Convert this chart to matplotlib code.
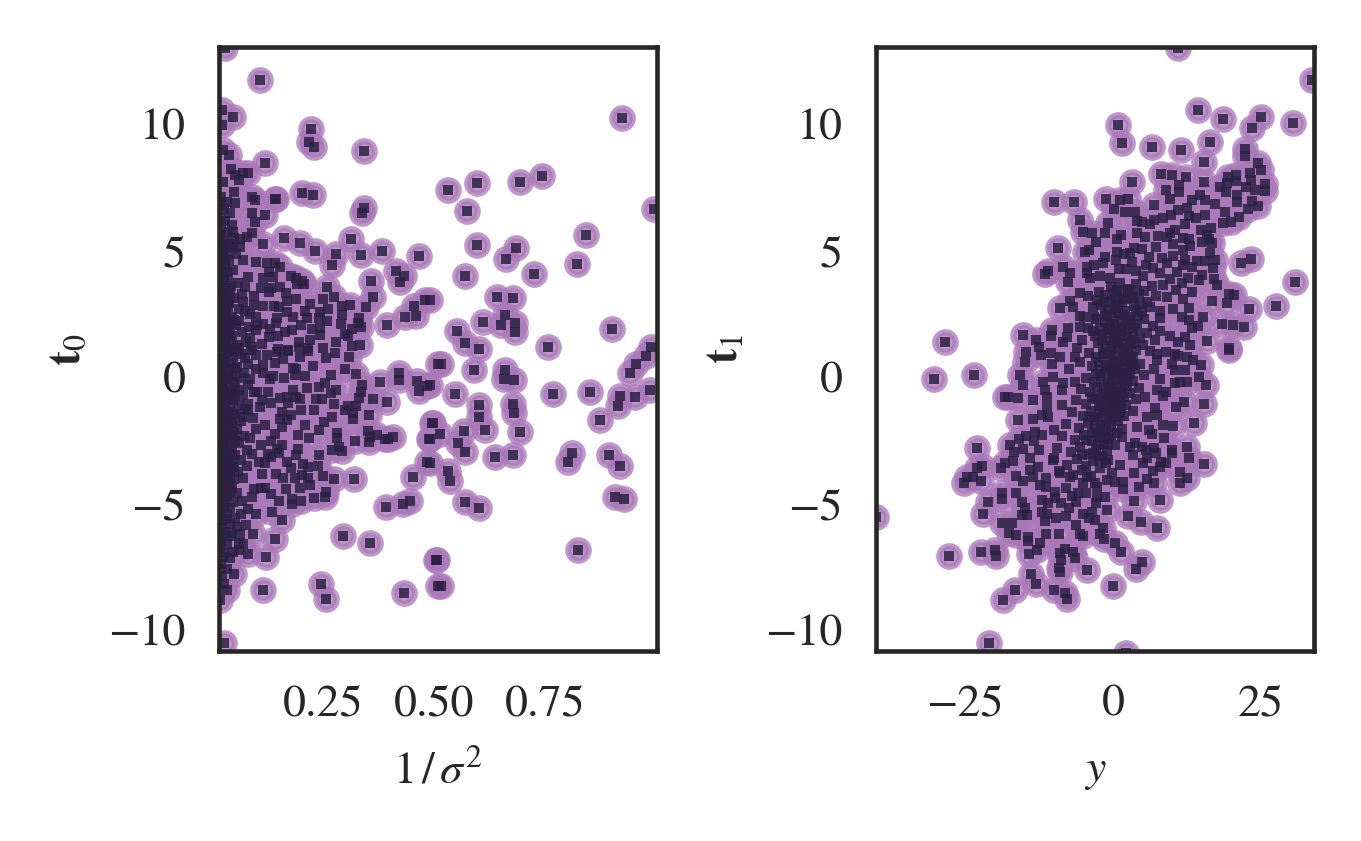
import numpy as np
import matplotlib
matplotlib.use('Agg')
import matplotlib.pyplot as plt

plt.rcParams['font.family'] = ['STIXGeneral', 'Liberation Serif']
plt.rcParams['mathtext.fontset'] = 'stix'
plt.rcParams['font.size'] = 11
plt.rcParams['text.color'] = '#262626'
plt.rcParams['axes.labelcolor'] = '#262626'
plt.rcParams['xtick.labelcolor'] = '#262626'
plt.rcParams['ytick.labelcolor'] = '#262626'

# puntos leidos uno a uno: (1/sigma^2, t0)
left_points = [
    (.108,11.74),(.03,13.0),(.047,10.27),(.022,10.55),(.022,9.96),(.223,9.81),(.218,9.30),(.230,9.10),
    (.342,8.93),(.119,8.47),(.038,8.77),(.024,8.97),(.043,8.22),(.052,7.98),(.061,7.79),(.07,8.06),
    (.081,8.07),(.025,7.72),(.05,7.32),(.09,7.13),(.097,7.0),(.142,7.04),(.145,7.04),(.203,7.28),
    (.228,7.19),(.052,6.88),(.09,6.49),(.119,6.4),(.097,6.14),(.342,6.68),(.338,6.49),(.047,5.74),
    (.09,5.70),(.063,5.45),(.078,5.55),(.115,5.26),(.162,5.51),(.198,5.31),(.232,4.99),(.279,4.87),
    (.313,5.45),(.335,4.82),(.383,4.99),(.466,4.79),(.27,4.43),(.414,4.2),(.432,4.0),(.424,3.77),
    (.358,3.81),(.063,5.15),(.047,5.14),(.07,4.62),(.1,4.56),(.123,4.52),(.142,4.52),(.153,4.36),
    (.081,3.95),(.115,3.91),(.137,3.95),(.128,4.16),(.177,3.99),(.19,3.91),(.202,3.81),(.191,3.68),
    (.207,3.68),(.11,3.53),(.134,3.52),(.153,3.57),(.128,3.37),(.167,3.33),(.074,3.57),(.259,3.57),
    (.275,3.16),(.362,3.16),(.095,2.85),(.114,2.82),(.14,2.82),(.151,2.77),(.221,2.89),(.21,2.62),
    (.261,2.7),(.293,2.82),(.311,2.85),(.347,2.78),(.455,2.82),(.48,3.04),(.435,2.38),(.46,2.42),
    (.394,2.07),(.293,2.46),(.243,2.58),(.241,2.34),(.213,2.34),(.182,2.38),(.146,2.34),(.144,2.15),
    (.1,2.38),(.101,2.05),(.115,2.09),(.331,2.34),(.329,2.13),(.335,1.99),(.315,1.9),(.306,1.62),
    (.225,1.9),(.243,1.94),(.243,1.66),(.18,1.86),(.164,1.79),(.149,1.62),(.128,1.58),(.1,1.86),
    (.085,1.54),(.112,1.3),(.196,1.4),(.196,1.2),(.315,1.23),(.333,1.26),(.149,1.1),(.171,1.07),
    (.216,1.15),(.147,1.0),(.171,1.03),(.198,.8),(.216,1.03),(.257,.75),(.277,.95),(.309,.8),
    (.123,.87),(.1,.87),(.115,.47),(.142,.55),(.115,.16),(.137,.04),(.162,-.04),(.183,.36),
    (.187,.08),(.228,.43),(.269,.08),(.255,-.24),(.268,-.62),(.324,.12),(.378,-.19),(.421,.16),
    (.421,-.12),(.461,-.15),(.484,-.34),(.466,-.54),(.509,.51),(.337,-.32),(.335,-.58),(.331,-.83),
    (.362,-.87),(.394,-.99),(.275,-1.07),(.234,-.87),(.247,-.87),(.213,-.42),(.19,-.78),(.198,-.87),
    (.182,-.51),(.168,-.79),(.153,-.83),(.171,-1.03),(.126,-.58),(.101,-.59),(.112,-.91),(.108,-1.17),
    (.134,-1.03),(.081,-1.3),(.092,-1.62),(.157,-1.37),(.179,-1.5),(.153,-1.66),(.169,-1.7),(.157,-1.98),
    (.253,-1.77),(.306,-1.13),(.324,-1.13),(.317,-1.42),(.317,-1.66),(.354,-1.5),(.351,-2.12),(.371,-2.29),
    (.356,-2.36),(.354,-2.57),(.322,-2.52),(.281,-2.21),(.282,-2.41),(.286,-2.77),(.293,-2.93),(.39,-2.45),
    (.397,-2.45),(.407,-2.36),(.495,-1.82),(.488,-2.45),(.484,-3.36),(.452,-3.94),(.193,-2.29),(.219,-2.4),
    (.142,-2.25),(.133,-2.52),(.157,-2.69),(.147,-2.85),(.193,-2.85),(.19,-3.08),(.126,-3.04),(.134,-3.16),
    (.168,-3.35),(.179,-3.6),(.204,-3.44),(.216,-3.54),(.238,-3.51),(.202,-3.87),(.216,-3.99),(.187,-3.99),
    (.221,-4.27),(.198,-4.38),(.167,-4.43),(.144,-3.83),(.112,-3.83),(.095,-4.43),(.133,-4.61),(.18,-4.82),
    (.18,-5.02),(.257,-4.53),(.255,-4.74),(.275,-4.03),(.32,-4.03),(.067,-4.9),(.135,-5.32),(.158,-5.65),
    (.392,-5.13),(.43,-5.02),(.446,-4.9),(.077,-5.85),(.092,-6.21),(.142,-6.4),(.056,-5.93),(.063,-6.21),
    (.061,-6.56),(.061,-6.84),(.08,-7.0),(.122,-7.11),(.047,-6.9),(.04,-6.17),(.05,-7.79),(.033,-8.42),
    (.115,-8.42),(.245,-8.18),(.257,-8.77),(.432,-8.54),(.294,-6.27),(.356,-6.55),(.504,-7.23),(.509,-8.26),
    (.027,-10.51),(.018,-8.81),
    (.924,10.22),(.532,7.39),(.597,7.68),(.574,6.56),(.694,7.72),(.743,7.94),(.996,6.64),(.842,5.61),
    (.822,4.47),(.597,5.22),(.685,5.1),(.662,4.66),(.57,3.99),(.725,4.07),(.642,3.16),(.678,3.12),
    (.491,3.04),(.61,2.17),(.66,2.45),(.651,2.06),(.682,2.13),(.682,1.78),(.552,1.82),(.57,1.36),
    (.601,1.11),(.757,1.19),(.901,1.9),(.989,1.19),(.977,.83),(.955,.51),(.941,.17),(.986,-.51),
    (.953,-.78),(.92,-.75),(.914,-1.15),(.874,-1.7),(.851,-.59),(.768,-.67),(.516,.51),(.59,.28),
    (.66,.28),(.658,-.08),(.68,-.12),(.547,-.67),(.601,-1.11),(.601,-1.58),(.678,-1.07),(.68,-1.42),
    (.694,-2.17),(.615,-2.09),(.568,-2.13),(.554,-2.61),(.57,-2.96),(.513,-2.25),(.497,-1.82),(.491,-2.45),
    (.637,-3.15),(.678,-3.08),(.532,-3.72),(.536,-4.11),(.57,-4.94),(.601,-5.18),(.811,-3.0),(.802,-3.36),
    (.894,-3.08),(.919,-3.52),(.908,-4.74),(.928,-4.82),(.824,-6.84),(.507,-7.23),(.516,-8.26),(.491,-.32),
    (.491,-3.4),
    (.13,1.9),(.17,2.55),(.2,2.05),(.22,1.45),(.26,2.2),(.28,1.4),(.25,1.15),(.16,.7),(.19,.3),(.21,.05),
    (.24,-.4),(.28,-.5),(.3,.3),(.3,-1.3),(.27,-1.6),(.23,-1.3),(.21,-1.9),(.2,-1.3),(.24,-2.1),(.27,-2.9),
    (.24,-3.1),(.25,-3.9),(.15,-3.0),(.16,-4.0),(.15,-4.9),(.2,-4.9),(.23,-4.8),(.12,-1.9),(.13,-.1),(.12,-3.4),
    (.17,3.0),(.19,3.1),(.25,3.1),(.12,-4.4),(.3,1.7),(.29,2.1),
]

# la banda oscura junto al eje: (1/sigma^2, t0) estimados
left_band = [
    (.02,7.1),(.033,6.93),(.018,6.81),(.027,6.62),(.04,6.47),(.019,6.3),(.03,6.17),(.046,6.02),(.021,5.88),
    (.036,5.74),(.018,5.63),(.05,5.51),(.026,5.38),(.041,5.24),(.018,5.13),(.031,4.99),(.055,4.86),(.022,4.73),
    (.039,4.61),(.019,4.48),(.029,4.35),(.047,4.22),(.018,4.1),(.035,3.97),(.024,3.85),(.058,3.73),(.043,3.61),
    (.019,3.49),(.03,3.38),(.067,3.26),(.05,3.14),(.022,3.03),(.038,2.91),(.018,2.82),(.06,2.7),(.075,2.59),
    (.028,2.48),(.045,2.37),(.018,2.29),(.034,2.17),(.054,2.06),(.083,1.96),(.024,1.86),(.068,1.76),(.041,1.66),
    (.018,1.57),(.031,1.47),(.076,1.37),(.056,1.27),(.021,1.18),(.088,1.08),(.038,.98),(.065,.89),(.047,.79),
    (.018,.7),(.027,.6),(.08,.51),(.056,.41),(.035,.32),(.02,.23),(.072,.14),(.044,.04),(.062,-.05),(.018,-.14),
    (.03,-.24),(.082,-.33),(.052,-.43),(.023,-.52),(.039,-.62),(.069,-.71),(.018,-.81),(.047,-.9),(.03,-1.0),
    (.06,-1.09),(.02,-1.19),(.075,-1.28),(.038,-1.38),(.052,-1.47),(.018,-1.57),(.028,-1.66),(.066,-1.76),
    (.044,-1.85),(.021,-1.95),(.056,-2.05),(.033,-2.14),(.018,-2.24),(.072,-2.33),(.047,-2.43),(.026,-2.52),
    (.06,-2.62),(.04,-2.71),(.018,-2.81),(.078,-2.9),(.03,-3.0),(.052,-3.09),(.021,-3.19),(.065,-3.28),(.038,-3.38),
    (.018,-3.47),(.047,-3.57),(.028,-3.66),(.058,-3.76),(.02,-3.85),(.036,-3.95),(.05,-4.05),(.018,-4.16),(.03,-4.27),
    (.044,-4.38),(.022,-4.49),(.057,-4.6),(.034,-4.72),(.018,-4.83),(.048,-4.95),(.027,-5.07),(.04,-5.19),(.019,-5.3),
    (.033,-5.43),(.052,-5.56),(.022,-5.68),(.04,-5.82),(.018,-5.97),(.03,-6.12),(.045,-6.28),(.02,-6.44),(.034,-6.6),
    (.018,-6.78),(.028,-6.97),(.04,-7.15),(.02,-7.38),(.033,-7.6),(.022,-7.85),(.026,-8.2),
    (.024,4.9),(.018,4.55),(.033,4.15),(.02,3.7),(.04,3.3),(.026,2.95),(.018,2.6),(.05,2.25),(.03,1.95),(.02,1.6),
    (.044,1.3),(.026,.95),(.018,.65),(.052,.35),(.03,.05),(.02,-.25),(.042,-.55),(.026,-.85),(.018,-1.15),(.05,-1.45),
    (.03,-1.75),(.02,-2.05),(.042,-2.35),(.026,-2.65),(.018,-2.95),(.045,-3.25),(.03,-3.55),(.02,-3.85),(.04,-4.2),
    (.024,-4.6),(.037,2.75),(.023,2.35),(.035,1.75),(.05,1.05),(.023,.45),(.036,-.1),(.052,-.75),(.024,-1.3),
    (.036,-1.95),(.052,-2.55),(.024,-3.1),(.036,-3.7),
    (.07,2.95),(.095,3.2),(.085,2.5),(.06,2.2),(.09,1.2),(.075,.75),(.1,.3),(.085,-.1),(.095,-.6),(.08,-1.05),
    (.07,-1.6),(.1,-2.05),(.085,-2.4),(.11,-2.7),(.09,-3.05),(.105,-3.35),(.078,-3.5),(.07,-4.0),(.09,-4.75),
    (.11,-4.4),(.08,-5.2),(.1,-5.4),(.065,-5.4),(.07,-6.6),
    (.019,5.6),(.025,5.2),(.03,4.6),(.022,4.2),(.028,3.9),(.036,3.5),(.028,3.2),(.021,2.85),(.032,2.55),(.044,2.1),
    (.025,2.05),(.037,1.85),(.029,1.55),(.045,1.6),(.024,1.3),(.035,1.1),(.061,1.15),(.029,.75),(.042,.55),(.021,.38),
    (.035,.15),(.05,-.2),(.025,-.4),(.033,-.7),(.06,-.5),(.021,-.95),(.04,-1.2),(.03,-1.5),(.045,-1.65),(.021,-1.75),
    (.035,-2.35),(.05,-2.2),(.025,-2.2),(.03,-2.85),(.045,-2.85),(.021,-3.35),(.035,-3.2),(.05,-3.55),(.025,-3.9),
    (.04,-3.75),(.03,-4.1),(.02,-4.35),(.04,-4.55),(.028,-4.9),(.021,-5.1),(.03,-5.6),(.024,-6.3),(.025,-7.1),
]

# (y, t1)
right_points = [
    (11.03,12.99),(33.56,11.74),(14.41,10.55),(18.63,10.21),(25.0,10.29),(23.48,9.82),(30.46,10.03),(.84,9.96),
    (1.52,9.26),(6.59,9.10),(11.48,8.95),(16.38,9.30),(15.37,8.50),(22.29,9.0),(22.29,8.75),(24.43,8.47),
    (24.94,8.18),(23.14,8.08),(20.77,7.98),(19.48,7.92),(19.31,7.68),(20.77,7.76),(25.73,7.63),(25.73,7.35),
    (19.09,7.29),(17.23,6.82),(23.42,6.97),(24.43,6.77),(22.75,6.65),(18.92,6.5),(21.28,6.34),(19.87,6.13),
    (18.63,6.1),(8.11,8.04),(9.96,8.0),(12.33,7.92),(15.37,7.72),(3.26,7.72),(8.95,7.39),(11.2,7.59),
    (11.2,7.31),(9.63,7.04),(13.29,7.0),(14.69,7.18),(-9.97,6.93),(-6.59,6.93),(-1.19,7.04),(1.18,7.0),
    (2.47,7.05),(.17,6.64),(2.02,6.5),(3.71,6.5),(4.0,6.18),(4.95,6.13),(6.25,6.05),(9.79,6.4),
    (11.03,6.6),(12.44,6.67),(12.84,6.36),(12.16,6.06),(-5.58,6.21),(-5.01,5.73),(-3.55,5.7),(-2.87,5.35),
    (-9.29,5.1),(-4.73,4.95),(-4.0,5.02),(.62,4.95),(.62,5.45),(1.35,5.61),(4.0,5.7),(5.4,5.55),
    (7.65,5.59),(9.06,5.55),(9.63,5.7),(11.88,5.48),(12.89,5.45),(10.19,5.26),(13.0,5.18),(11.88,5.02),
    (14.97,5.35),(15.82,5.61),(16.27,5.45),(16.78,5.31),(16.38,4.89),(17.23,4.62),(23.31,4.66),(21.62,4.52),
    (14.13,4.6),(15.54,4.6),(16.83,4.3),(12.16,4.62),(11.88,4.43),(13.29,4.36),(14.97,4.03),(14.58,3.83),
    (17.05,3.87),(17.51,3.64),(30.74,3.75),(27.53,2.81),(22.97,2.7),(20.44,3.24),(19.65,3.28),(19.31,2.94),
    (16.72,3.02),(15.26,2.38),(18.41,2.09),(20.27,2.05),(22.13,1.98),(15.88,1.42),(19.59,1.13),(14.41,2.02),
    (13.29,1.92),(12.15,1.59),(13.0,1.26),(-11.04,4.19),(-11.49,4.06),(-8.5,4.36),(-7.27,4.12),(-7.66,3.77),
    (-4.34,4.36),(-3.21,4.43),(-4.45,4.1),(-3.89,3.93),(-2.2,4.0),(-1.35,4.76),(.5,4.62),(-1.64,4.49),
    (1.07,4.27),(-.51,3.93),(-8.96,2.74),(-6.76,2.78),(-28.38,1.4),(-15.15,1.66),(-13.01,1.46),(-10.36,1.86),
    (-10.48,1.62),(-12.5,1.2),(-7.55,1.92),(-5.58,1.99),(-7.72,1.59),(-8.5,1.4),(-4.17,1.95),(-5.3,1.46),
    (-6.15,1.13),(-5.58,2.42),(-4.9,2.36),(-3.33,2.78),(-3.21,2.36),(-2.76,3.04),(-2.37,3.37),(-1.35,2.45),
    (.34,2.71),(-3.0,1.6),(-1.92,1.6),(-.8,1.86),
    (-30.24,-.08),(-23.48,.08),(-14.7,1.0),(-14.87,.58),(-12.16,.87),(-10.48,.96),(-15.71,.08),(-15.26,-.32),
    (-10.36,.51),(-17.68,-.8),(-18.2,-.8),(-16.11,-.84),(-13.52,-.91),(-11.77,-.19),(-10.19,.01),(-8.5,-.25),
    (-11.49,-.51),(-11.21,-.78),(-8.67,-.51),(-11.2,-1.17),(-8.67,-1.11),(-12.05,-1.5),(-13.46,-1.67),(-13.18,-2.16),
    (-14.7,-2.33),(-15.88,-2.46),(-13.35,-2.52),(-17.4,-2.69),(-16.73,-2.95),(-15.26,-2.86),(-23.03,-2.79),(-22.19,-3.52),
    (-23.03,-3.61),(-18.25,-3.41),(-16.95,-3.32),(-24.72,-3.97),(-25.12,-4.18),(-23.71,-3.97),(-22.3,-4.1),(-16.39,-3.9),
    (-15.26,-4.1),(-14.02,-3.68),(-12.62,-3.57),(-13.46,-3.94),(-18.81,-4.57),(-18.7,-4.84),(-16.39,-4.59),(-15.43,-4.93),
    (-21.17,-4.94),(-21.91,-5.4),(-14.87,-5.17),(-15.43,-5.45),(-14.6,-5.45),(-12.33,-4.27),(-11.3,-4.0),(-11.3,-4.33),
    (-9.8,-4.53),(-12.05,-4.86),(-10.93,-4.97),(-9.8,-4.8),(-8.85,-4.99),(-7.45,-5.17),(-6.25,-4.93),(-12.05,-5.32),
    (-11.2,-5.4),(-11.5,-5.68),(-9.63,-5.56),(-6.25,-5.85),(-9.12,-6.2),(-11.38,-6.22),(-12.33,-6.55),(-14.42,-6.31),
    (-14.42,-6.48),(-16.45,-6.25),(-17.57,-6.18),(-18.7,-5.78),(-17.0,-5.76),(-12.9,-6.84),(-14.12,-6.98),(-22.3,-6.9),
    (-19.93,-6.84),(-19.77,-7.08),(-27.71,-7.08),(-13.85,-7.79),(-13.01,-8.18),(-16.55,-8.42),(-18.53,-8.81),(-9.97,-8.42),
    (-8.11,-8.55),(-7.83,-8.77),(-8.96,-6.97),(-8.85,-7.23),(-9.07,-7.56),(-8.96,-7.7),(-8.1,-6.81),(-6.82,-6.92),
    (-6.42,-7.17),(-4.39,-7.63),(0,-8.26),(3.83,-7.6),(4.9,-7.3),(1.35,-6.9),(.34,-6.57),(-1.47,-6.4),
    (-1.63,-5.98),(-2.2,-6.2),(-5.01,-6.27),(-5.58,-6.2),(-4.0,-5.59),(-3.05,-5.65),(-3.6,-5.32),(-1.07,-5.26),
    (-1.35,-4.73),(-2.76,-4.73),(-2.87,-4.99),(-4.56,-4.6),(-5.86,-4.57),(-8.0,-4.4),(-2.76,-4.33),(-4.45,-3.94),
    (-7.27,-3.94),(-8.95,-3.81),(-1.07,-4.07),(.33,-4.14),(1.63,-4.14),(1.63,-4.43),(4.39,-4.33),(5.68,-4.04),
    (6.81,-3.72),(7.94,-3.54),(8.05,-3.35),(7.94,-4.86),(2.47,-5.49),(4.73,-5.73),(7.43,-5.97),(11.31,-3.74),
    (12.44,-3.98),(11.31,-4.2),(15.43,-3.44),(12.84,-3.2),(12.5,-2.77),(10.02,-2.89),(10.02,-3.02),(6.92,-2.79),
    (8.61,-2.41),(6.53,-2.25),(8.39,-1.9),(10.08,-1.94),(13.68,-1.83),(15.43,-1.08),(15.71,-.32),(14.52,-.01),
    (12.15,.28),(10.47,-.25),(11.31,-.21),(12.44,-.21),(10.47,.28),(9.9,.51),(14.86,.47),(13.57,.67),
    (12.44,.8),(11.03,.84),(19.59,1.07),(7.37,-.51),(8.39,-.75),(7.09,-1.24),(5.7,-1.57),(5.4,-.78),
    (7.37,.67),(4.0,-1.96),(3.7,-2.62),(4.84,-2.75),(5.68,-3.2),(3.4,-3.08),(1.18,-3.48),(2.87,-2.78),
    (1.46,-2.36),(-40.0,-5.55),(-21.0,-10.5),(2.2,-10.9),
]

# el nucleo denso y su entorno: (y, t1) estimados
right_core = [
    (2.8,4.9),(3.6,5.1),(4.9,5.05),(6.1,4.75),(7.2,5.15),(8.3,4.7),(5.5,4.42),(3.2,4.55),(1.9,4.85),(2.2,4.25),
    (3.9,4.2),(5.0,3.98),(6.7,4.3),(7.9,4.12),(9.2,4.5),(10.1,4.78),(10.8,4.15),(9.6,3.86),(8.4,3.62),(11.6,3.7),
    (12.7,3.9),(13.4,3.35),(11.9,3.1),(12.8,2.72),(10.7,3.45),(9.2,3.15),(10.2,2.7),(11.6,2.35),(12.9,2.25),(7.9,2.6),
    (-.3,3.55),(1.1,3.72),(2.6,3.48),(3.9,3.66),(5.3,3.41),(6.6,3.58),(-1.4,3.22),(.4,3.08),(1.7,3.31),(3.0,3.12),
    (4.4,3.27),(5.7,2.98),(7.3,3.2),(-2.1,2.83),(-.8,2.67),(.9,2.9),(2.1,2.61),(3.5,2.82),(4.9,2.55),(6.2,2.77),
    (-2.9,2.31),(-1.3,2.18),(-.1,2.42),(1.3,2.24),(2.7,2.38),(3.8,2.11),(5.2,2.29),(6.8,2.02),(8.0,2.33),
    (-3.4,1.83),(-1.9,1.71),(-.6,1.93),(.6,1.66),(1.6,1.88),(2.4,1.62),(3.3,1.79),(4.6,1.55),(5.8,1.74),(7.1,1.48),
    (-2.6,1.36),(-1.2,1.22),(-.3,1.44),(.5,1.17),(1.4,1.39),(2.2,1.13),(3.0,1.31),(3.9,1.06),(5.0,1.27),(6.3,1.02),
    (-4.1,.93),(-2.9,.78),(-1.7,.97),(-.7,.71),(.2,.88),(1.0,.64),(1.8,.83),(2.6,.59),(3.4,.77),(4.5,.53),
    (-3.6,.42),(-2.2,.28),(-1.1,.49),(-.2,.23),(.6,.4),(1.3,.17),(2.1,.36),(2.9,.11),(3.8,.3),(5.3,.06),
    (-4.6,-.04),(-3.2,-.18),(-2.0,.02),(-.9,-.24),(-.1,-.07),(.7,-.31),(1.5,-.12),(2.4,-.36),(3.3,-.16),(4.4,-.42),
    (-5.4,-.46),(-3.9,-.61),(-2.7,-.41),(-1.5,-.66),(-.6,-.49),(.2,-.74),(1.1,-.56),(1.9,-.81),(2.8,-.63),(3.9,-.88),
    (-6.2,-.92),(-4.5,-1.08),(-3.1,-.87),(-2.0,-1.13),(-1.1,-.96),(-.3,-1.21),(.5,-1.02),(1.3,-1.27),(2.2,-1.09),(3.3,-1.33),
    (-7.0,-1.38),(-5.1,-1.54),(-3.8,-1.33),(-2.5,-1.59),(-1.5,-1.42),(-.7,-1.67),(.1,-1.48),(.9,-1.73),(1.8,-1.55),
    (-7.9,-1.86),(-5.8,-2.02),(-4.3,-1.81),(-3.0,-2.07),(-2.0,-1.9),(-1.1,-2.15),(-.3,-1.96),(.6,-2.21),(1.5,-2.04),
    (-8.6,-2.34),(-6.4,-2.5),(-4.9,-2.29),(-3.5,-2.55),(-2.4,-2.38),(-1.5,-2.63),(-.7,-2.44),(.3,-2.69),
    (-9.4,-2.82),(-7.1,-2.98),(-5.5,-2.77),(-4.1,-3.03),(-2.8,-2.86),(-1.8,-3.11),(-1.0,-2.92),
    (-10.1,-3.3),(-7.8,-3.46),(-6.0,-3.25),(-4.6,-3.51),(-3.3,-3.34),(-2.2,-3.59),
    (-9.2,-3.72),(-6.8,-3.88),(-5.3,-3.67),(-3.8,-3.93),
    (-1.6,2.95),(.1,3.3),(1.5,2.98),(2.9,3.42),(-.5,2.03),(.9,2.52),(2.4,2.05),(3.9,2.64),(-1.8,1.45),(.1,1.55),
    (.9,1.98),(2.9,1.47),(4.1,1.92),(-2.3,.6),(-.9,.35),(.4,.6),(1.7,1.02),(2.5,.92),(3.4,.48),(-1.5,-.3),
    (.1,.08),(1.0,.33),(1.9,.1),(2.8,.42),(-2.4,-1.0),(-.9,-.8),(-.1,-.45),(.9,-.85),(1.8,-.25),(-3.0,-1.7),
    (-1.6,-2.05),(-.7,-1.3),(.3,-1.25),(1.2,-.95),(-2.5,-2.7),(-.8,-2.65),(-.2,-1.6),(-3.6,-2.2),(-1.2,-3.4),
    (-.3,3.0),(.6,3.45),(2.0,3.1),(3.4,3.15),(4.6,2.9),(-1.0,2.4),(.2,2.1),(1.7,2.45),(3.1,2.25),(4.3,2.4),
    (-2.2,1.95),(-.2,1.75),(1.2,1.6),(2.0,1.85),(3.6,1.4),(-1.5,.9),(-.1,1.1),(.8,1.35),(2.1,.65),(3.0,.7),
    (-2.8,.1),(-1.3,.1),(.3,.35),(1.5,.6),(2.4,.05),(-3.5,-.8),(-1.9,-.7),(-.4,-.9),(.6,-.55),(1.5,-.6),
    (-4.0,-1.6),(-2.3,-1.4),(-1.1,-1.8),(.5,-1.6),(1.2,-1.45),(-4.5,-2.5),(-2.8,-2.2),(-1.8,-2.4),(-.4,-2.3),
    (-5.2,-3.1),(-3.4,-3.0),(-2.4,-3.2),(-.9,-3.3),
    (3.5,-3.8),(5.0,-3.4),(7.2,-3.0),(9,-3.4),(7,-4.2),(3.5,-4.9),(-.2,-3.8),(-3,-4.2),(-5,-4.2),(-7,-4.7),
    (-5,-5.4),(-8,-5.5),(-10,-3.2),(-12.5,-2.9),(-12,-2.3),(-10,-2.1),(-11,-1.6),(-16,-1.7),(-19,-3.6),(-14,-3.2),
    (8,-.1),(7,.3),(9,1.0),(11,1.4),(9.6,1.6),(7.5,.9),(6,-2.1),(7.5,-1.5),(8,1.8),(10.7,-1.2),(12,-1.0),(9,-.6),
    (10.5,.9),(5.5,-2.9),(-6.5,.8),(-7.5,.3),(-6.5,-.2),(-9,.8),(-5.5,.6),(-7.3,3.0),(-4.3,3.2),(-5.5,3.3),
    (-1.3,5.7),(-.9,6.1),(7.0,6.2),(8.5,6.3),(10.5,5.8),(6.9,6.8),(15.5,6.4),(15.5,7.0),(18,7.5),(21,6.9),
    (22.5,7.5),(21,7.2),(24,7.4),(23.3,7.8),(16.5,5.9),(14.9,5.8),(14,6.3),
]

left_xticks = [.25, .5, .75]
right_xticks = [-25, 0, 25]
yticks = [-10, -5, 0, 5, 10]


def draw(ax, pts, xlim, xticks, xfmt, xlabel, ylabel):
    pts = np.array(pts)
    ax.scatter(pts[:, 0], pts[:, 1], s=24, color='#aa78b8', alpha=.76, linewidths=1.5)
    ax.scatter(pts[:, 0], pts[:, 1], s=5.6, marker='s', color='#2b2044', alpha=.85, linewidths=0)
    ax.set_xlim(xlim)
    ax.set_ylim(-10.83, 13.04)
    ax.set_xticks(xticks)
    ax.set_xticklabels([xfmt(v) for v in xticks])
    ax.set_yticks(yticks)
    ax.set_yticklabels([str(v).replace('-', '\u2212') for v in yticks])
    ax.tick_params(length=0, pad=8)
    ax.set_xlabel(xlabel, labelpad=6, fontsize=11)
    ax.set_ylabel(ylabel, labelpad=4.5)
    for sp in ax.spines.values():
        sp.set_color('#262626')
        sp.set_linewidth(1.1)


fig = plt.figure(figsize=(1361 / 300, 841 / 300), dpi=300)
ax1 = fig.add_axes([219 / 1361, 1 - 651 / 841, 438 / 1361, 604 / 841])
ax2 = fig.add_axes([876 / 1361, 1 - 651 / 841, 438 / 1361, 604 / 841])

draw(ax1, left_points + left_band, (.0158, 1.0023), left_xticks,
     lambda v: '%.2f' % v, r'$1\,/\,\sigma^2$', r'$\mathbf{t}_0$')
draw(ax2, right_points + right_core, (-40.03, 33.95), right_xticks,
     lambda v: str(v).replace('-', '\u2212'), r'$y$', r'$\mathbf{t}_1$')

fig.savefig('out.png', dpi=300)
